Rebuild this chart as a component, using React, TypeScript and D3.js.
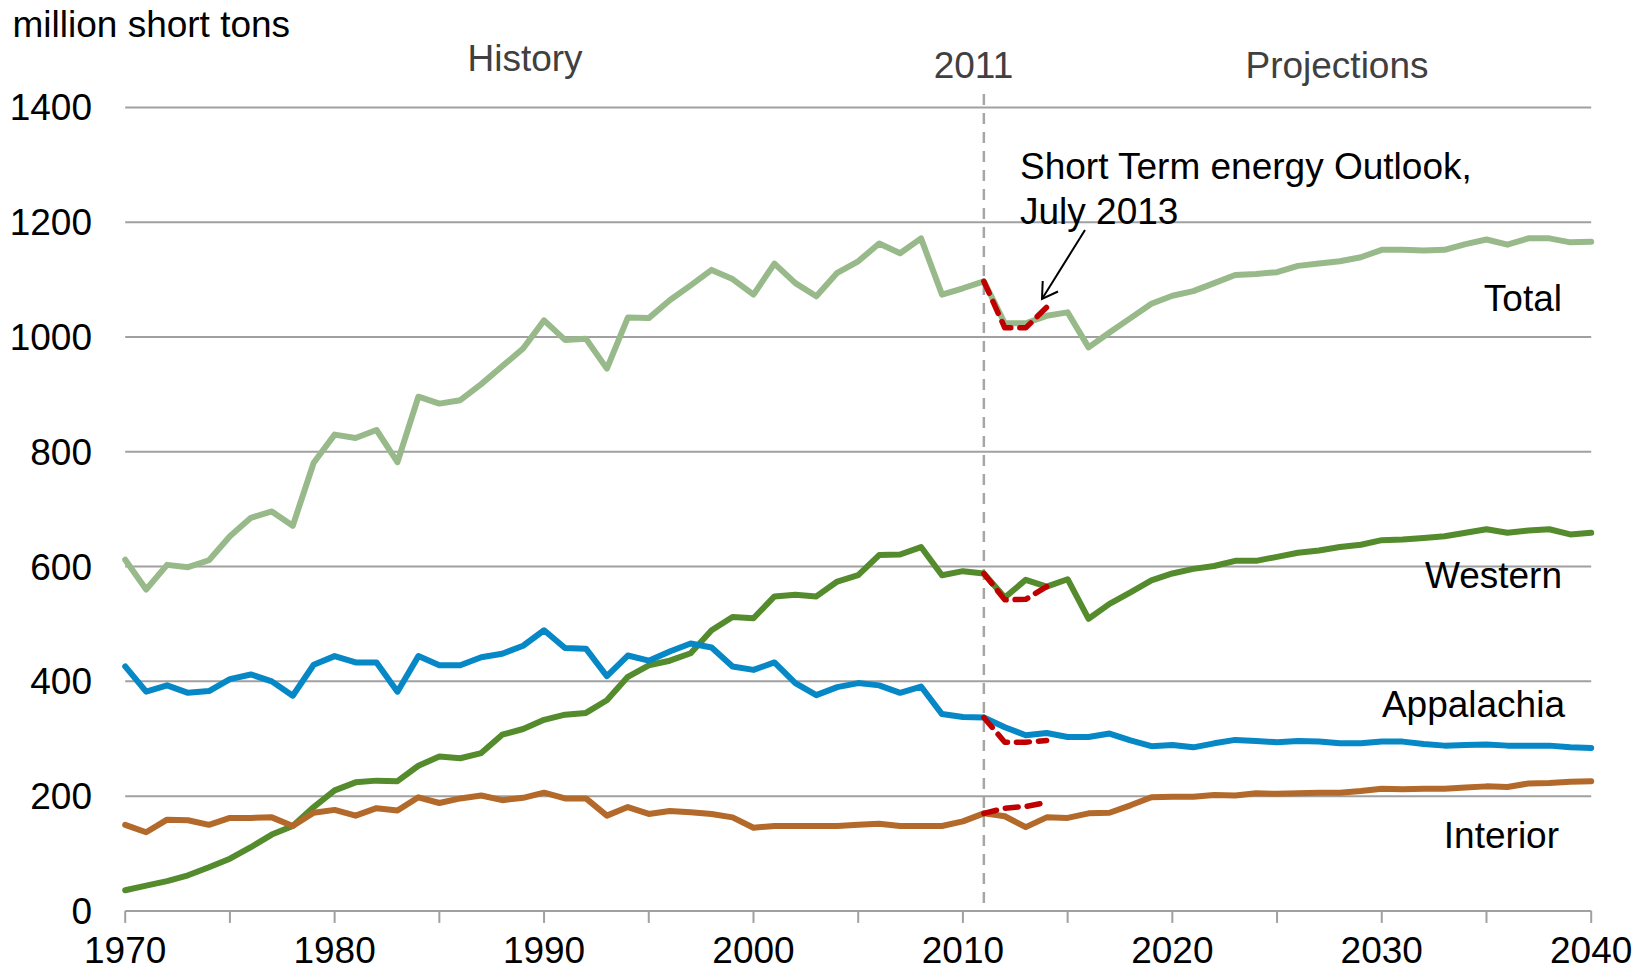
import * as d3 from "d3";

// years 1970..2040
const years = d3.range(1970, 2041);
const steoYears = [2011, 2012, 2013, 2014];

const total = [
  612, 560, 603, 599, 611, 653, 685, 696, 671, 781,
  830, 824, 838, 782, 896, 884, 890, 918, 949, 980,
  1029, 995, 997, 945, 1034, 1033, 1064, 1090, 1117, 1101,
  1074, 1128, 1094, 1071, 1112, 1132, 1163, 1146, 1172, 1074,
  1085, 1097, 1024, 1024, 1037, 1043, 982, 1008, 1033, 1058,
  1072, 1080, 1094, 1108, 1110, 1113, 1124, 1128, 1132, 1139,
  1152, 1152, 1151, 1152, 1162, 1170, 1161, 1172, 1172, 1165,
  1166,
];
const western = [
  36, 44, 52, 62, 76, 91, 111, 133, 148, 181,
  210, 224, 227, 226, 253, 269, 266, 275, 307, 317,
  333, 342, 345, 367, 408, 428, 436, 449, 489, 512,
  510, 548, 551, 548, 574, 585, 620, 621, 634, 585,
  592, 588, 546, 577, 565, 578, 509, 535, 555, 576,
  588, 596, 601, 610, 610, 617, 624, 628, 634, 638,
  646, 647, 650, 653, 659, 665, 659, 663, 665, 656,
  659,
];
const appalachia = [
  426, 382, 393, 380, 383, 404, 412, 400, 375, 429,
  444, 433, 433, 382, 444, 428, 428, 442, 448, 462,
  489, 458, 457, 409, 445, 436, 452, 466, 459, 426,
  420, 433, 397, 376, 390, 397, 393, 380, 391, 343,
  338, 337, 320, 306, 310, 303, 303, 309, 297, 287,
  289, 285, 292, 298, 296, 294, 296, 295, 292, 292,
  295, 295, 291, 288, 289, 290, 288, 288, 288, 285,
  284,
];
const interior = [
  150, 137, 159, 158, 150, 162, 162, 163, 148, 171,
  176, 166, 179, 175, 198, 188, 196, 201, 193, 197,
  206, 196, 196, 166, 181, 169, 174, 172, 169, 163,
  145, 148, 148, 148, 148, 150, 152, 148, 148, 148,
  156, 170, 165, 146, 163, 162, 170, 171, 184, 198,
  199, 199, 202, 201, 205, 204, 205, 206, 206, 209,
  213, 212, 213, 213, 215, 217, 216, 222, 223, 225,
  226,
];

// Short Term Energy Outlook, July 2013
const steoTotal = [1097, 1016, 1016, 1052];
const steoWestern = [588, 542, 543, 565];
const steoAppalachia = [337, 294, 294, 297];
const steoInterior = [170, 179, 182, 189];

const yTicks = [0, 200, 400, 600, 800, 1000, 1200, 1400];
const xLabelTicks = [1970, 1980, 1990, 2000, 2010, 2020, 2030, 2040];
const xMinorTicks = d3.range(1970, 2041, 5);

const W = 1636;
const H = 972;
const FONT = "'Liberation Sans', Arial, Helvetica, sans-serif";
const FS = 37;

export default function App() {
  const x = d3.scaleLinear().domain([1970, 2040]).range([125.2, 1591.2]);
  const y = d3.scaleLinear().domain([0, 1400]).range([910.9, 107.5]);

  const line = d3
    .line<[number, number]>()
    .x((d) => x(d[0]))
    .y((d) => y(d[1]));

  const path = (xs: number[], vs: number[]) =>
    line(xs.map((yr, i) => [yr, vs[i]]) as [number, number][]) || "";

  const series = [
    { name: "Total", values: total, color: "#98b98a" },
    { name: "Western", values: western, color: "#548b2c" },
    { name: "Appalachia", values: appalachia, color: "#0687c6" },
    { name: "Interior", values: interior, color: "#b2692a" },
  ];
  const steo = [steoTotal, steoWestern, steoAppalachia, steoInterior];

  const [x0, x1] = x.range();

  return (
    <svg
      width={W}
      height={H}
      style={{ position: "absolute", left: 0, top: 0, background: "#fff" }}
      fontFamily={FONT}
    >
      {/* gridlines */}
      {yTicks.map((t) => (
        <line key={t} x1={x0} x2={x1} y1={y(t)} y2={y(t)} stroke="#a0a0a0" strokeWidth={2} />
      ))}
      {/* x axis ticks */}
      {xMinorTicks.map((t) => (
        <line key={t} x1={x(t)} x2={x(t)} y1={y(0)} y2={y(0) + 12} stroke="#a0a0a0" strokeWidth={2} />
      ))}
      {/* y labels */}
      {yTicks.map((t) => (
        <text key={t} x={92} y={y(t)} dy="0.35em" textAnchor="end" fontSize={FS} fill="#000">
          {t}
        </text>
      ))}
      {/* x labels */}
      {xLabelTicks.map((t) => (
        <text key={t} x={x(t)} y={963} textAnchor="middle" fontSize={FS} fill="#000">
          {t}
        </text>
      ))}

      {/* 2011 divider */}
      <line
        x1={x(2011)}
        x2={x(2011)}
        y1={94}
        y2={y(0)}
        stroke="#a6a6a6"
        strokeWidth={2.5}
        strokeDasharray="11 8"
      />

      {/* series */}
      {series.map((s) => (
        <path
          key={s.name}
          d={path(years, s.values)}
          fill="none"
          stroke={s.color}
          strokeWidth={6}
          strokeLinejoin="round"
          strokeLinecap="round"
        />
      ))}
      {steo.map((vals, i) => (
        <path
          key={i}
          d={path(steoYears, vals)}
          fill="none"
          stroke="#c00000"
          strokeWidth={5.5}
          strokeDasharray="13 9"
          strokeLinecap="round"
          strokeLinejoin="round"
        />
      ))}

      {/* headers */}
      <text x={12.5} y={37} fontSize={FS} fill="#000">million short tons</text>
      <text x={525} y={71} fontSize={FS} textAnchor="middle" fill="#404040">History</text>
      <text x={973.5} y={78} fontSize={FS} textAnchor="middle" fill="#404040">2011</text>
      <text x={1337} y={78} fontSize={FS} textAnchor="middle" fill="#404040">Projections</text>

      {/* annotation */}
      <text x={1020} y={179} fontSize={FS} fill="#000">Short Term energy Outlook,</text>
      <text x={1020} y={224} fontSize={FS} fill="#000">July 2013</text>
      <g stroke="#000" strokeWidth={2} fill="none">
        <line x1={1085} y1={230} x2={1042} y2={299} />
        <polyline points="1042.7,281 1042,299 1058,291.5" />
      </g>

      {/* series labels */}
      <text x={1562} y={311} fontSize={FS} textAnchor="end" fill="#000">Total</text>
      <text x={1562} y={588} fontSize={FS} textAnchor="end" fill="#000">Western</text>
      <text x={1565} y={717} fontSize={FS} textAnchor="end" fill="#000">Appalachia</text>
      <text x={1559} y={848} fontSize={FS} textAnchor="end" fill="#000">Interior</text>
    </svg>
  );
}
